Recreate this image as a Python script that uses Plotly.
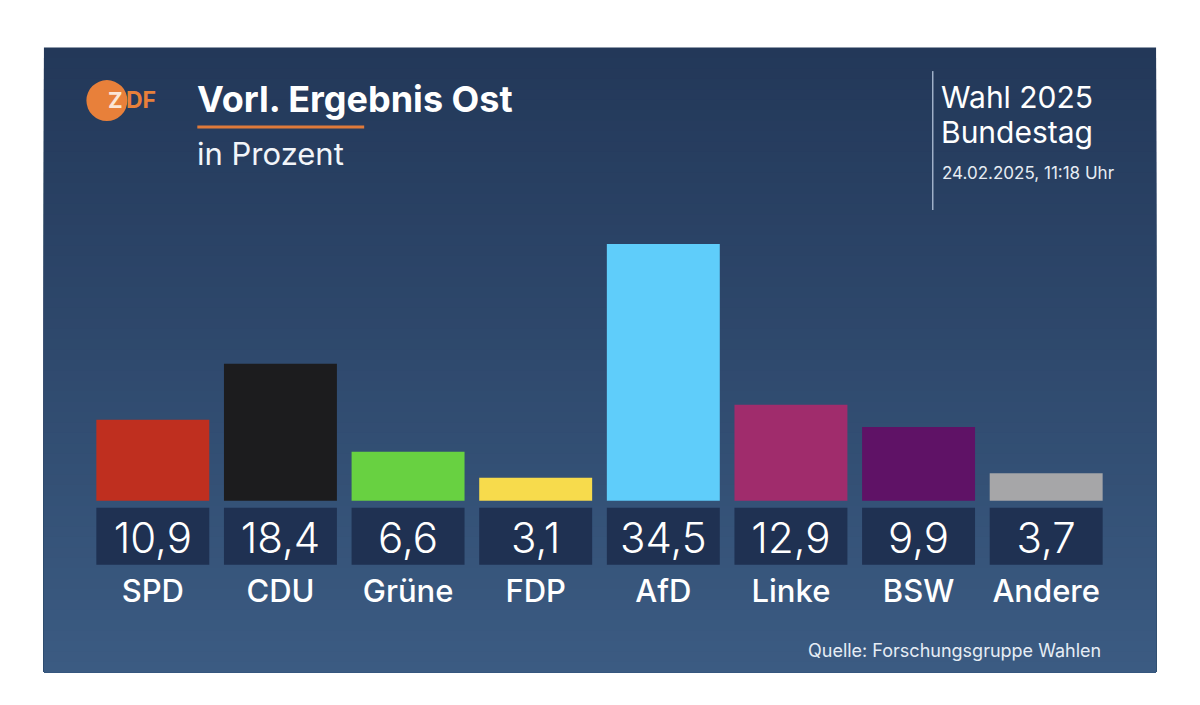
import plotly.graph_objects as go

# Vorläufiges Ergebnis Ost, Bundestagswahl 2025 (ZDF / Forschungsgruppe Wahlen)
parties = ["SPD", "CDU", "Grüne", "FDP", "AfD", "Linke", "BSW", "Andere"]
shares = [10.9, 18.4, 6.6, 3.1, 34.5, 12.9, 9.9, 3.7]
colors = ["#bf2f1f", "#1c1c1e", "#68d141", "#f7db4c", "#5fcdfa", "#a02c6c", "#5f1266", "#a6a6a8"]

title = "Vorl. Ergebnis Ost"
subtitle = "in Prozent"
election = ["Wahl 2025", "Bundestag"]
stamp = "24.02.2025, 11:18 Uhr"
source = "Quelle: Forschungsgruppe Wahlen"

W, H = 1200, 705
L, R, T, B = 88.6, 89.6, 203, 99.7
PW, PH = W - L - R, H - T - B
FONT = "Inter"


def px(x):
    return (x - L) / PW


def py(y):
    return 1 - (y - T) / PH


def mix(c1, c2, t):
    a = [int(c1[i:i + 2], 16) for i in (1, 3, 5)]
    b = [int(c2[i:i + 2], 16) for i in (1, 3, 5)]
    return "rgb(%d,%d,%d)" % tuple(round(a[k] + (b[k] - a[k]) * t) for k in range(3))


fig = go.Figure()

fig.add_trace(go.Bar(x=parties, y=shares, marker=dict(color=colors, line=dict(width=0)),
                     hoverinfo="x+y", showlegend=False))

# value numbers inside the dark boxes
fig.add_trace(go.Scatter(x=parties, y=[-5.6] * len(parties), mode="text",
                         text=[f"{v:.1f}".replace(".", ",") for v in shares],
                         textfont=dict(family=FONT, size=42, color="white", weight=300),
                         hoverinfo="skip", showlegend=False))
# party names
fig.add_trace(go.Scatter(x=parties, y=[-12.5] * len(parties), mode="text",
                         text=parties,
                         textfont=dict(family=FONT, size=31, color="white", weight=500),
                         hoverinfo="skip", showlegend=False))

shapes = []
# panel background gradient (each strip runs to the bottom, so no seams)
top, bottom = 47.5, 672.5
n = 60
for i in range(n):
    y0 = top + (bottom - top) * i / n
    shapes.append(dict(type="rect", xref="paper", yref="paper", layer="below",
                       x0=px(43.5), x1=px(1156.5), y0=py(bottom), y1=py(y0),
                       fillcolor=mix("#233859", "#3b5b82", i / (n - 1)), line=dict(width=0)))

# dark value boxes under each bar
for i in range(len(parties)):
    shapes.append(dict(type="rect", xref="x", yref="y", layer="below",
                       x0=i - 0.4425, x1=i + 0.4425, y0=-8.6, y1=-0.95,
                       fillcolor="#1f3152", line=dict(width=0)))

# orange underline of the title
shapes.append(dict(type="line", xref="paper", yref="paper",
                   x0=px(197), x1=px(364), y0=py(127), y1=py(127),
                   line=dict(color="#e07a3a", width=3)))
# divider line top right
shapes.append(dict(type="line", xref="paper", yref="paper",
                   x0=px(933), x1=px(933), y0=py(71), y1=py(210),
                   line=dict(color="#9fb0c8", width=1.5)))
# ZDF logo circle
shapes.append(dict(type="circle", xref="paper", yref="paper",
                   x0=px(86), x1=px(127), y0=py(121), y1=py(80),
                   fillcolor="#e8803a", line=dict(width=0)))

annotations = [
    dict(text="<b>Z</b>", x=px(115), y=py(100), font=dict(family=FONT, size=22, color="#fbe6d6"),
         xanchor="center", yanchor="middle"),
    dict(text="<b>DF</b>", x=px(124), y=py(100), font=dict(family=FONT, size=23, color="#e8803a"),
         xanchor="left", yanchor="middle"),
    dict(text=f"<b>{title}</b>", x=px(195), y=py(99), font=dict(family=FONT, size=36, color="white"),
         xanchor="left", yanchor="middle"),
    dict(text=subtitle, x=px(195), y=py(153), font=dict(family=FONT, size=31, color="#f2f5f9"),
         xanchor="left", yanchor="middle"),
    dict(text=election[0], x=px(939), y=py(97), font=dict(family=FONT, size=30, color="white"),
         xanchor="left", yanchor="middle"),
    dict(text=election[1], x=px(939), y=py(132), font=dict(family=FONT, size=30, color="white"),
         xanchor="left", yanchor="middle"),
    dict(text=stamp, x=px(940), y=py(173), font=dict(family=FONT, size=17, color="#e6ecf3"),
         xanchor="left", yanchor="middle"),
    dict(text=source, x=px(1103), y=py(651), font=dict(family=FONT, size=18, color="#e6edf5"),
         xanchor="right", yanchor="middle"),
]
for a in annotations:
    a.update(xref="paper", yref="paper", showarrow=False)

fig.update_layout(
    width=W, height=H,
    margin=dict(l=L, r=R, t=T, b=B, pad=0),
    paper_bgcolor="white",
    plot_bgcolor="rgba(0,0,0,0)",
    bargap=0.115,
    xaxis=dict(visible=False, range=[-0.5, len(parties) - 0.5], fixedrange=True),
    yaxis=dict(visible=False, range=[-14, 40], fixedrange=True),
    shapes=shapes,
    annotations=annotations,
    font=dict(family=FONT),
)

# drop the browser's default page margin so the figure sits at (0, 0)
fig.write_html("out.html", config={"displayModeBar": False},
               post_script="document.body.style.margin='0';")
